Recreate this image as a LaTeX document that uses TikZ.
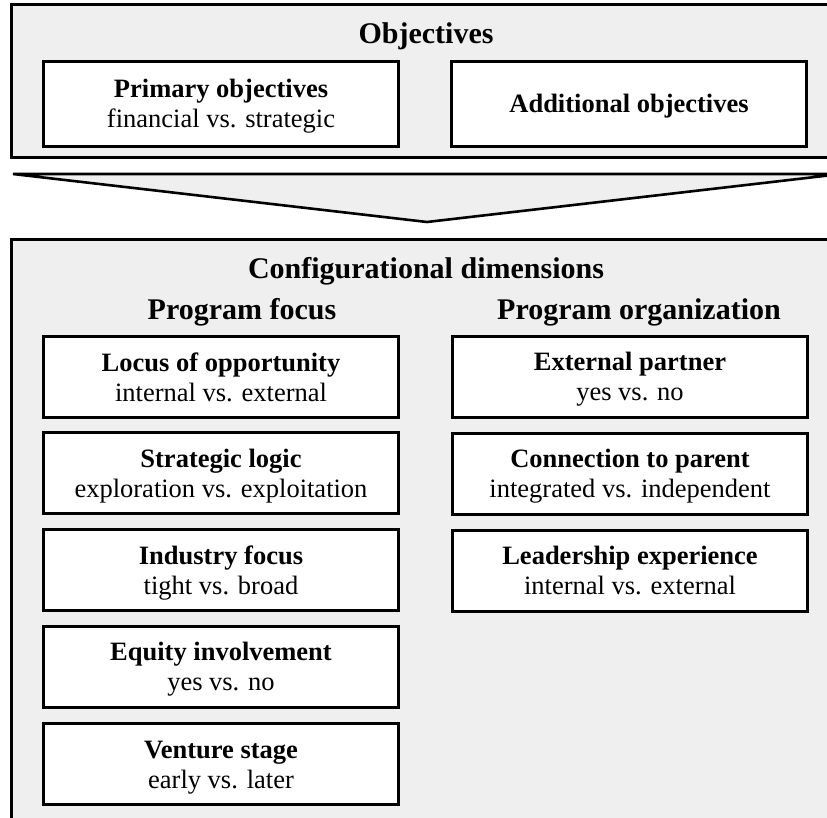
\documentclass[tikz,border=0pt]{standalone}
\usepackage{fontspec}
\setmainfont{Liberation Serif}
\definecolor{panelgray}{HTML}{EFEFEF}
\newcommand{\twoline}[2]{\rule{0pt}{27pt}\textbf{#1}\\#2\strut}
\begin{document}
\begin{tikzpicture}[x=1pt,y=-1pt,
  panel/.style={draw=black, fill=panelgray, line width=3pt},
  arrowshape/.style={draw=black, fill=panelgray, line width=2.6pt, line join=miter},
  dimbox/.style={draw=black, fill=white, line width=3pt, minimum width=355pt, minimum height=81pt, inner sep=0pt, align=center, font=\fontsize{26.5}{30}\selectfont},
  objbox/.style={dimbox, minimum height=85pt},
  title/.style={inner sep=0pt, font=\bfseries\fontsize{30}{34}\selectfont}]
\useasboundingbox (0,0) rectangle (827,818);
\begin{scope}
\clip (0,0) rectangle (827,818);
\draw[panel] (11,5) rectangle (845,158);
\draw[arrowshape] (13,174) -- (841,174) -- (427,222) -- cycle;
\draw[panel] (11,240) rectangle (845,840);
\end{scope}
\node[title] (obj) at (426,36) {Objectives};
\node[objbox] (prim) at (221,104) {\twoline{Primary objectives}{financial vs. strategic}};
\node[objbox] (add) at (629,104) {\rule{0pt}{23pt}\textbf{Additional objectives}};
\node[title] (conf) at (426,271) {Configurational dimensions};
\node[title] (pf) at (242,312) {Program focus};
\node[title] (po) at (639,312) {Program organization};
\node[dimbox] (locus) at (221,377) {\twoline{Locus of opportunity}{internal vs. external}};
\node[dimbox] (strat) at (221,473) {\twoline{Strategic logic}{exploration vs. exploitation}};
\node[dimbox] (ind) at (221,570) {\twoline{Industry focus}{tight vs. broad}};
\node[dimbox] (eq) at (221,666.5) {\twoline{Equity involvement}{yes vs. no}};
\node[dimbox] (vent) at (221,764) {\twoline{Venture stage}{early vs. later}};
\node[dimbox] (ext) at (630,376.5) {\twoline{External partner}{yes vs. no}};
\node[dimbox] (conn) at (630,473.5) {\twoline{Connection to parent}{integrated vs. independent}};
\node[dimbox] (lead) at (630,570.5) {\twoline{Leadership experience}{internal vs. external}};
\end{tikzpicture}
\end{document}
